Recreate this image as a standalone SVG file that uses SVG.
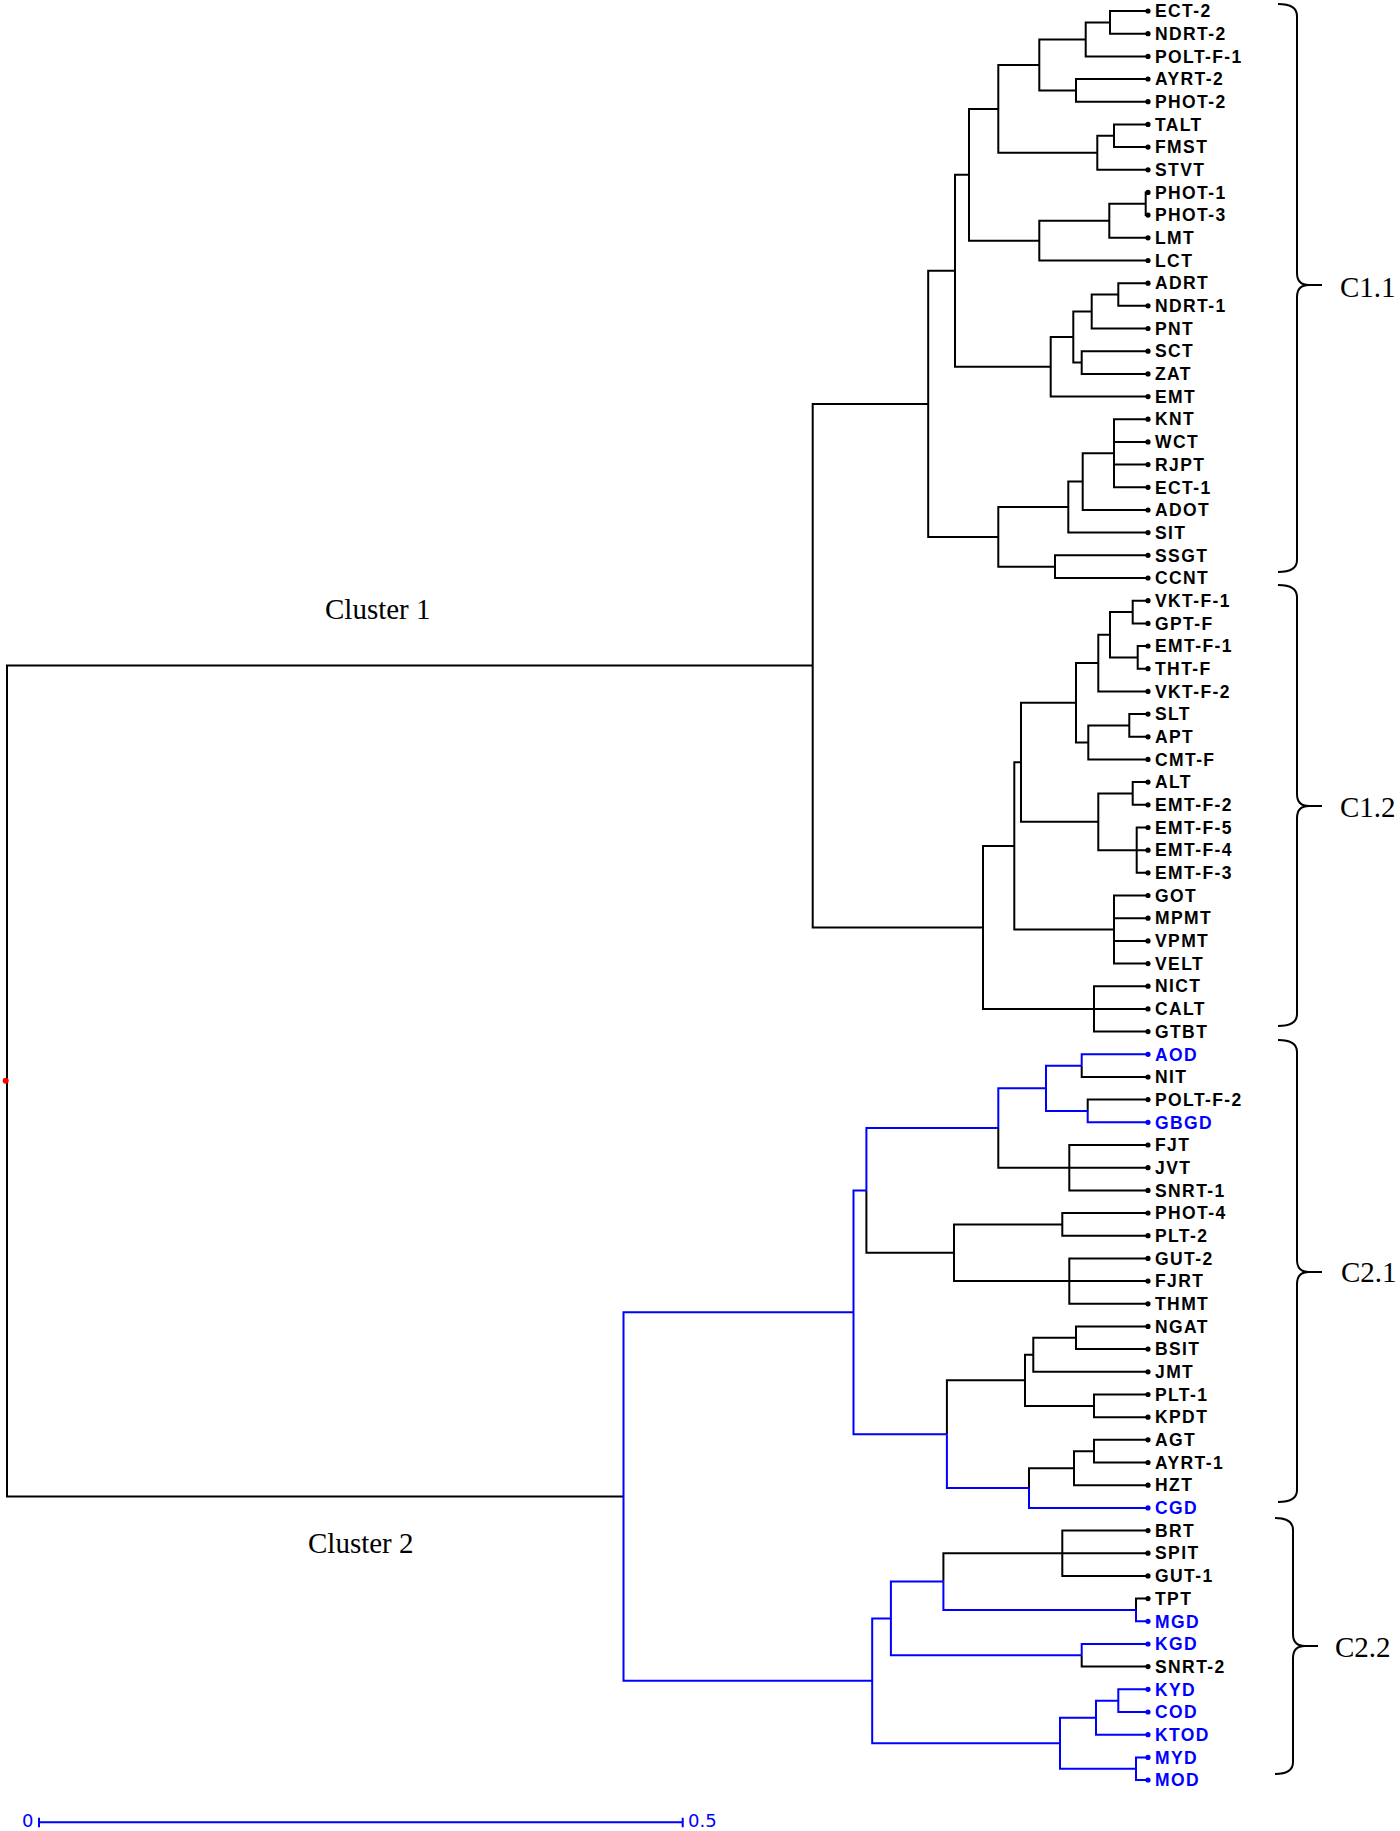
<svg xmlns="http://www.w3.org/2000/svg" width="1400" height="1831" viewBox="0 0 1400 1831">
<style>
.k{fill:none;stroke:#000;stroke-width:2}
.b{fill:none;stroke:#0000ff;stroke-width:2}
.leaf text{font-family:"Liberation Sans",Arial,sans-serif;font-weight:bold;font-size:17.5px;letter-spacing:1.4px;fill:#000}
.leaf circle{fill:#000}
.blue text{fill:#0000ff}
.blue circle{fill:#0000ff}
.br{fill:none;stroke:#000;stroke-width:2}
.cl{font-family:"Liberation Serif","Times New Roman",serif;font-size:29px;fill:#000}
.sc{font-family:"DejaVu Sans",Verdana,sans-serif;font-size:18px;fill:#0000ff}
</style>
<rect width="1400" height="1831" fill="#fff"/>
<g id="connectors">
<path class="k" d="M1110,22.4V11H1147M1110,22.4V33.7H1147"/>
<path class="k" d="M1085.7,39.4V22.4H1110M1085.7,39.4V56.4H1147"/>
<path class="k" d="M1076,90.4V79H1147M1076,90.4V101.7H1147"/>
<path class="k" d="M1039.3,64.9V39.4H1085.7M1039.3,64.9V90.4H1076"/>
<path class="k" d="M1114,135.8V124.4H1147M1114,135.8V147.1H1147"/>
<path class="k" d="M1097.3,152.8V135.8H1114M1097.3,152.8V169.8H1147"/>
<path class="k" d="M998.3,108.9V64.9H1039.3M998.3,108.9V152.8H1097.3"/>
<path class="k" d="M1145.7,203.8V192.4H1147M1145.7,203.8V215.1H1147"/>
<path class="k" d="M1109.3,220.8V203.8H1145.7M1109.3,220.8V237.8H1147"/>
<path class="k" d="M1039.3,240.7V220.8H1109.3M1039.3,240.7V260.5H1147"/>
<path class="k" d="M969,174.8V108.9H998.3M969,174.8V240.7H1039.3"/>
<path class="k" d="M1118.3,294.5V283.2H1147M1118.3,294.5V305.8H1147"/>
<path class="k" d="M1091.7,311.5V294.5H1118.3M1091.7,311.5V328.5H1147"/>
<path class="k" d="M1081.7,362.6V351.2H1147M1081.7,362.6V373.9H1147"/>
<path class="k" d="M1073.3,337V311.5H1091.7M1073.3,337V362.6H1081.7"/>
<path class="k" d="M1050.7,366.8V337H1073.3M1050.7,366.8V396.6H1147"/>
<path class="k" d="M955,270.8V174.8H969M955,270.8V366.8H1050.7"/>
<path class="k" d="M1114,453.3V419.2H1147M1114,441.9H1147M1114,464.6H1147M1114,453.3V487.3H1147"/>
<path class="k" d="M1082.7,481.6V453.3H1114M1082.7,481.6V510H1147"/>
<path class="k" d="M1068.3,507.1V481.6H1082.7M1068.3,507.1V532.6H1147"/>
<path class="k" d="M1055,566.7V555.3H1147M1055,566.7V578H1147"/>
<path class="k" d="M998.3,536.9V507.1H1068.3M998.3,536.9V566.7H1055"/>
<path class="k" d="M928.2,403.9V270.8H955M928.2,403.9V536.9H998.3"/>
<path class="k" d="M1132.7,612.1V600.7H1147M1132.7,612.1V623.4H1147"/>
<path class="k" d="M1137.7,657.4V646H1147M1137.7,657.4V668.7H1147"/>
<path class="k" d="M1110,634.7V612.1H1132.7M1110,634.7V657.4H1137.7"/>
<path class="k" d="M1098.3,663.1V634.7H1110M1098.3,663.1V691.4H1147"/>
<path class="k" d="M1129.3,725.5V714.1H1147M1129.3,725.5V736.8H1147"/>
<path class="k" d="M1088.3,742.4V725.5H1129.3M1088.3,742.4V759.4H1147"/>
<path class="k" d="M1076,702.7V663.1H1098.3M1076,702.7V742.4H1088.3"/>
<path class="k" d="M1132.7,793.5V782.1H1147M1132.7,793.5V804.8H1147"/>
<path class="k" d="M1136.7,850.2V827.5H1147M1136.7,850.2H1147M1136.7,850.2V872.8H1147"/>
<path class="k" d="M1098.3,821.8V793.5H1132.7M1098.3,821.8V850.2H1136.7"/>
<path class="k" d="M1021,762.3V702.7H1076M1021,762.3V821.8H1098.3"/>
<path class="k" d="M1114,929.6V895.5H1147M1114,918.2H1147M1114,940.9H1147M1114,929.6V963.6H1147"/>
<path class="k" d="M1014.3,845.9V762.3H1021M1014.3,845.9V929.6H1114"/>
<path class="k" d="M1094,1008.9V986.2H1147M1094,1008.9H1147M1094,1008.9V1031.6H1147"/>
<path class="k" d="M983,927.4V845.9H1014.3M983,927.4V1008.9H1094"/>
<path class="k" d="M812.7,665.6V403.9H928.2M812.7,665.6V927.4H983"/>
<path class="k" d="M7,1081.1V665.6H812.7M7,1081.1V1496.6H623.5"/>
<path class="b" d="M1081.7,1065.7V1054.3H1147"/>
<path class="k" d="M1081.7,1065.7V1077H1147"/>
<path class="k" d="M1087.7,1111V1099.6H1147"/>
<path class="b" d="M1087.7,1111V1122.3H1147"/>
<path class="b" d="M1046,1088.3V1065.7H1081.7M1046,1088.3V1111H1087.7"/>
<path class="k" d="M1069.3,1167.7V1145H1147M1069.3,1167.7H1147M1069.3,1167.7V1190.4H1147"/>
<path class="b" d="M998.3,1128V1088.3H1046"/>
<path class="k" d="M998.3,1128V1167.7H1069.3"/>
<path class="k" d="M1062.3,1224.4V1213H1147M1062.3,1224.4V1235.7H1147"/>
<path class="k" d="M1069.3,1281.1V1258.4H1147M1069.3,1281.1H1147M1069.3,1281.1V1303.8H1147"/>
<path class="k" d="M954,1252.8V1224.4H1062.3M954,1252.8V1281.1H1069.3"/>
<path class="b" d="M866.4,1190.4V1128H998.3"/>
<path class="k" d="M866.4,1190.4V1252.8H954"/>
<path class="k" d="M1076,1337.8V1326.4H1147M1076,1337.8V1349.1H1147"/>
<path class="k" d="M1033.3,1354.8V1337.8H1076M1033.3,1354.8V1371.8H1147"/>
<path class="k" d="M1094,1405.9V1394.5H1147M1094,1405.9V1417.2H1147"/>
<path class="k" d="M1025,1380.3V1354.8H1033.3M1025,1380.3V1405.9H1094"/>
<path class="k" d="M1094,1451.2V1439.8H1147M1094,1451.2V1462.5H1147"/>
<path class="k" d="M1074,1468.2V1451.2H1094M1074,1468.2V1485.2H1147"/>
<path class="k" d="M1029,1488.1V1468.2H1074"/>
<path class="b" d="M1029,1488.1V1507.9H1147"/>
<path class="k" d="M946.9,1434.2V1380.3H1025"/>
<path class="b" d="M946.9,1434.2V1488.1H1029"/>
<path class="b" d="M853.5,1312.3V1190.4H866.4M853.5,1312.3V1434.2H946.9"/>
<path class="k" d="M1062.3,1553.2V1530.6H1147M1062.3,1553.2H1147M1062.3,1553.2V1575.9H1147"/>
<path class="k" d="M1136,1610V1598.6H1147"/>
<path class="b" d="M1136,1610V1621.3H1147"/>
<path class="k" d="M943.4,1581.6V1553.2H1062.3"/>
<path class="b" d="M943.4,1581.6V1610H1136"/>
<path class="b" d="M1081.7,1655.3V1644H1147"/>
<path class="k" d="M1081.7,1655.3V1666.6H1147"/>
<path class="b" d="M890.9,1618.5V1581.6H943.4M890.9,1618.5V1655.3H1081.7"/>
<path class="b" d="M1118.3,1700.7V1689.3H1147M1118.3,1700.7V1712H1147"/>
<path class="b" d="M1096,1717.7V1700.7H1118.3M1096,1717.7V1734.7H1147"/>
<path class="b" d="M1136,1768.7V1757.4H1147M1136,1768.7V1780H1147"/>
<path class="b" d="M1060,1743.2V1717.7H1096M1060,1743.2V1768.7H1136"/>
<path class="b" d="M872.2,1680.8V1618.5H890.9M872.2,1680.8V1743.2H1060"/>
<path class="b" d="M623.5,1496.6V1312.3H853.5M623.5,1496.6V1680.8H872.2"/>
</g>
<g id="root-node"><circle cx="5.7" cy="1080.7" r="3" fill="#ff0000"/></g>
<g id="leaves">
<g id="n-ECT-2" class="leaf"><circle cx="1148" cy="11" r="2.6"/><text x="1155" y="17.2">ECT-2</text></g>
<g id="n-NDRT-2" class="leaf"><circle cx="1148" cy="33.7" r="2.6"/><text x="1155" y="39.9">NDRT-2</text></g>
<g id="n-POLT-F-1" class="leaf"><circle cx="1148" cy="56.4" r="2.6"/><text x="1155" y="62.6">POLT-F-1</text></g>
<g id="n-AYRT-2" class="leaf"><circle cx="1148" cy="79" r="2.6"/><text x="1155" y="85.2">AYRT-2</text></g>
<g id="n-PHOT-2" class="leaf"><circle cx="1148" cy="101.7" r="2.6"/><text x="1155" y="107.9">PHOT-2</text></g>
<g id="n-TALT" class="leaf"><circle cx="1148" cy="124.4" r="2.6"/><text x="1155" y="130.6">TALT</text></g>
<g id="n-FMST" class="leaf"><circle cx="1148" cy="147.1" r="2.6"/><text x="1155" y="153.3">FMST</text></g>
<g id="n-STVT" class="leaf"><circle cx="1148" cy="169.8" r="2.6"/><text x="1155" y="176">STVT</text></g>
<g id="n-PHOT-1" class="leaf"><circle cx="1148" cy="192.4" r="2.6"/><text x="1155" y="198.6">PHOT-1</text></g>
<g id="n-PHOT-3" class="leaf"><circle cx="1148" cy="215.1" r="2.6"/><text x="1155" y="221.3">PHOT-3</text></g>
<g id="n-LMT" class="leaf"><circle cx="1148" cy="237.8" r="2.6"/><text x="1155" y="244">LMT</text></g>
<g id="n-LCT" class="leaf"><circle cx="1148" cy="260.5" r="2.6"/><text x="1155" y="266.7">LCT</text></g>
<g id="n-ADRT" class="leaf"><circle cx="1148" cy="283.2" r="2.6"/><text x="1155" y="289.4">ADRT</text></g>
<g id="n-NDRT-1" class="leaf"><circle cx="1148" cy="305.8" r="2.6"/><text x="1155" y="312">NDRT-1</text></g>
<g id="n-PNT" class="leaf"><circle cx="1148" cy="328.5" r="2.6"/><text x="1155" y="334.7">PNT</text></g>
<g id="n-SCT" class="leaf"><circle cx="1148" cy="351.2" r="2.6"/><text x="1155" y="357.4">SCT</text></g>
<g id="n-ZAT" class="leaf"><circle cx="1148" cy="373.9" r="2.6"/><text x="1155" y="380.1">ZAT</text></g>
<g id="n-EMT" class="leaf"><circle cx="1148" cy="396.6" r="2.6"/><text x="1155" y="402.8">EMT</text></g>
<g id="n-KNT" class="leaf"><circle cx="1148" cy="419.2" r="2.6"/><text x="1155" y="425.4">KNT</text></g>
<g id="n-WCT" class="leaf"><circle cx="1148" cy="441.9" r="2.6"/><text x="1155" y="448.1">WCT</text></g>
<g id="n-RJPT" class="leaf"><circle cx="1148" cy="464.6" r="2.6"/><text x="1155" y="470.8">RJPT</text></g>
<g id="n-ECT-1" class="leaf"><circle cx="1148" cy="487.3" r="2.6"/><text x="1155" y="493.5">ECT-1</text></g>
<g id="n-ADOT" class="leaf"><circle cx="1148" cy="510" r="2.6"/><text x="1155" y="516.2">ADOT</text></g>
<g id="n-SIT" class="leaf"><circle cx="1148" cy="532.6" r="2.6"/><text x="1155" y="538.8">SIT</text></g>
<g id="n-SSGT" class="leaf"><circle cx="1148" cy="555.3" r="2.6"/><text x="1155" y="561.5">SSGT</text></g>
<g id="n-CCNT" class="leaf"><circle cx="1148" cy="578" r="2.6"/><text x="1155" y="584.2">CCNT</text></g>
<g id="n-VKT-F-1" class="leaf"><circle cx="1148" cy="600.7" r="2.6"/><text x="1155" y="606.9">VKT-F-1</text></g>
<g id="n-GPT-F" class="leaf"><circle cx="1148" cy="623.4" r="2.6"/><text x="1155" y="629.6">GPT-F</text></g>
<g id="n-EMT-F-1" class="leaf"><circle cx="1148" cy="646" r="2.6"/><text x="1155" y="652.2">EMT-F-1</text></g>
<g id="n-THT-F" class="leaf"><circle cx="1148" cy="668.7" r="2.6"/><text x="1155" y="674.9">THT-F</text></g>
<g id="n-VKT-F-2" class="leaf"><circle cx="1148" cy="691.4" r="2.6"/><text x="1155" y="697.6">VKT-F-2</text></g>
<g id="n-SLT" class="leaf"><circle cx="1148" cy="714.1" r="2.6"/><text x="1155" y="720.3">SLT</text></g>
<g id="n-APT" class="leaf"><circle cx="1148" cy="736.8" r="2.6"/><text x="1155" y="743">APT</text></g>
<g id="n-CMT-F" class="leaf"><circle cx="1148" cy="759.4" r="2.6"/><text x="1155" y="765.6">CMT-F</text></g>
<g id="n-ALT" class="leaf"><circle cx="1148" cy="782.1" r="2.6"/><text x="1155" y="788.3">ALT</text></g>
<g id="n-EMT-F-2" class="leaf"><circle cx="1148" cy="804.8" r="2.6"/><text x="1155" y="811">EMT-F-2</text></g>
<g id="n-EMT-F-5" class="leaf"><circle cx="1148" cy="827.5" r="2.6"/><text x="1155" y="833.7">EMT-F-5</text></g>
<g id="n-EMT-F-4" class="leaf"><circle cx="1148" cy="850.2" r="2.6"/><text x="1155" y="856.4">EMT-F-4</text></g>
<g id="n-EMT-F-3" class="leaf"><circle cx="1148" cy="872.8" r="2.6"/><text x="1155" y="879">EMT-F-3</text></g>
<g id="n-GOT" class="leaf"><circle cx="1148" cy="895.5" r="2.6"/><text x="1155" y="901.7">GOT</text></g>
<g id="n-MPMT" class="leaf"><circle cx="1148" cy="918.2" r="2.6"/><text x="1155" y="924.4">MPMT</text></g>
<g id="n-VPMT" class="leaf"><circle cx="1148" cy="940.9" r="2.6"/><text x="1155" y="947.1">VPMT</text></g>
<g id="n-VELT" class="leaf"><circle cx="1148" cy="963.6" r="2.6"/><text x="1155" y="969.8">VELT</text></g>
<g id="n-NICT" class="leaf"><circle cx="1148" cy="986.2" r="2.6"/><text x="1155" y="992.4">NICT</text></g>
<g id="n-CALT" class="leaf"><circle cx="1148" cy="1008.9" r="2.6"/><text x="1155" y="1015.1">CALT</text></g>
<g id="n-GTBT" class="leaf"><circle cx="1148" cy="1031.6" r="2.6"/><text x="1155" y="1037.8">GTBT</text></g>
<g id="n-AOD" class="leaf blue"><circle cx="1148" cy="1054.3" r="2.6"/><text x="1155" y="1060.5">AOD</text></g>
<g id="n-NIT" class="leaf"><circle cx="1148" cy="1077" r="2.6"/><text x="1155" y="1083.2">NIT</text></g>
<g id="n-POLT-F-2" class="leaf"><circle cx="1148" cy="1099.6" r="2.6"/><text x="1155" y="1105.8">POLT-F-2</text></g>
<g id="n-GBGD" class="leaf blue"><circle cx="1148" cy="1122.3" r="2.6"/><text x="1155" y="1128.5">GBGD</text></g>
<g id="n-FJT" class="leaf"><circle cx="1148" cy="1145" r="2.6"/><text x="1155" y="1151.2">FJT</text></g>
<g id="n-JVT" class="leaf"><circle cx="1148" cy="1167.7" r="2.6"/><text x="1155" y="1173.9">JVT</text></g>
<g id="n-SNRT-1" class="leaf"><circle cx="1148" cy="1190.4" r="2.6"/><text x="1155" y="1196.6">SNRT-1</text></g>
<g id="n-PHOT-4" class="leaf"><circle cx="1148" cy="1213" r="2.6"/><text x="1155" y="1219.2">PHOT-4</text></g>
<g id="n-PLT-2" class="leaf"><circle cx="1148" cy="1235.7" r="2.6"/><text x="1155" y="1241.9">PLT-2</text></g>
<g id="n-GUT-2" class="leaf"><circle cx="1148" cy="1258.4" r="2.6"/><text x="1155" y="1264.6">GUT-2</text></g>
<g id="n-FJRT" class="leaf"><circle cx="1148" cy="1281.1" r="2.6"/><text x="1155" y="1287.3">FJRT</text></g>
<g id="n-THMT" class="leaf"><circle cx="1148" cy="1303.8" r="2.6"/><text x="1155" y="1310">THMT</text></g>
<g id="n-NGAT" class="leaf"><circle cx="1148" cy="1326.4" r="2.6"/><text x="1155" y="1332.6">NGAT</text></g>
<g id="n-BSIT" class="leaf"><circle cx="1148" cy="1349.1" r="2.6"/><text x="1155" y="1355.3">BSIT</text></g>
<g id="n-JMT" class="leaf"><circle cx="1148" cy="1371.8" r="2.6"/><text x="1155" y="1378">JMT</text></g>
<g id="n-PLT-1" class="leaf"><circle cx="1148" cy="1394.5" r="2.6"/><text x="1155" y="1400.7">PLT-1</text></g>
<g id="n-KPDT" class="leaf"><circle cx="1148" cy="1417.2" r="2.6"/><text x="1155" y="1423.4">KPDT</text></g>
<g id="n-AGT" class="leaf"><circle cx="1148" cy="1439.8" r="2.6"/><text x="1155" y="1446">AGT</text></g>
<g id="n-AYRT-1" class="leaf"><circle cx="1148" cy="1462.5" r="2.6"/><text x="1155" y="1468.7">AYRT-1</text></g>
<g id="n-HZT" class="leaf"><circle cx="1148" cy="1485.2" r="2.6"/><text x="1155" y="1491.4">HZT</text></g>
<g id="n-CGD" class="leaf blue"><circle cx="1148" cy="1507.9" r="2.6"/><text x="1155" y="1514.1">CGD</text></g>
<g id="n-BRT" class="leaf"><circle cx="1148" cy="1530.6" r="2.6"/><text x="1155" y="1536.8">BRT</text></g>
<g id="n-SPIT" class="leaf"><circle cx="1148" cy="1553.2" r="2.6"/><text x="1155" y="1559.4">SPIT</text></g>
<g id="n-GUT-1" class="leaf"><circle cx="1148" cy="1575.9" r="2.6"/><text x="1155" y="1582.1">GUT-1</text></g>
<g id="n-TPT" class="leaf"><circle cx="1148" cy="1598.6" r="2.6"/><text x="1155" y="1604.8">TPT</text></g>
<g id="n-MGD" class="leaf blue"><circle cx="1148" cy="1621.3" r="2.6"/><text x="1155" y="1627.5">MGD</text></g>
<g id="n-KGD" class="leaf blue"><circle cx="1148" cy="1644" r="2.6"/><text x="1155" y="1650.2">KGD</text></g>
<g id="n-SNRT-2" class="leaf"><circle cx="1148" cy="1666.6" r="2.6"/><text x="1155" y="1672.8">SNRT-2</text></g>
<g id="n-KYD" class="leaf blue"><circle cx="1148" cy="1689.3" r="2.6"/><text x="1155" y="1695.5">KYD</text></g>
<g id="n-COD" class="leaf blue"><circle cx="1148" cy="1712" r="2.6"/><text x="1155" y="1718.2">COD</text></g>
<g id="n-KTOD" class="leaf blue"><circle cx="1148" cy="1734.7" r="2.6"/><text x="1155" y="1740.9">KTOD</text></g>
<g id="n-MYD" class="leaf blue"><circle cx="1148" cy="1757.4" r="2.6"/><text x="1155" y="1763.6">MYD</text></g>
<g id="n-MOD" class="leaf blue"><circle cx="1148" cy="1780" r="2.6"/><text x="1155" y="1786.2">MOD</text></g>
</g>
<g id="braces">
<path class="br" d="M1278,4Q1297,4 1297,16V273Q1297,285 1309,285H1322M1309,285Q1297,285 1297,297V560Q1297,572 1278,572"/>
<path class="br" d="M1278,585Q1297,585 1297,597V794Q1297,806 1309,806H1322M1309,806Q1297,806 1297,818V1014Q1297,1026 1278,1026"/>
<path class="br" d="M1278,1040Q1297,1040 1297,1052V1260Q1297,1272 1309,1272H1322M1309,1272Q1297,1272 1297,1284V1490Q1297,1502 1278,1502"/>
<path class="br" d="M1275,1518Q1293,1518 1293,1530V1634Q1293,1646 1305,1646H1318M1305,1646Q1293,1646 1293,1658V1762Q1293,1774 1275,1774"/>
</g>
<g id="labels">
<text class="cl" x="1340" y="297">C1.1</text>
<text class="cl" x="1340" y="816.5">C1.2</text>
<text class="cl" x="1341" y="1281.5">C2.1</text>
<text class="cl" x="1335" y="1656.5">C2.2</text>
<text class="cl" x="325" y="618.5">Cluster 1</text>
<text class="cl" x="308" y="1553">Cluster 2</text>
</g>
<g id="scale-bar">
<path class="b" d="M39,1822.3H682.7M39,1817.7V1827.3M682.7,1817.7V1827.3"/>
<text class="sc" x="22" y="1827">0</text>
<text class="sc" x="688" y="1827">0.5</text>
</g>
</svg>
